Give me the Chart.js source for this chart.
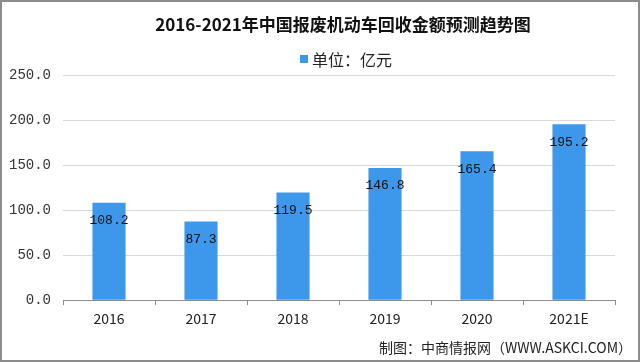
<!DOCTYPE html>
<html>
<head>
<meta charset="utf-8">
<script src="https://cdn.jsdelivr.net/npm/chart.js@4"></script>
<style>
  html, body { margin: 0; padding: 0; background: #fff; }
  #wrap { width: 640px; height: 362px; position: relative; }
</style>
</head>
<body>
<div id="wrap"><canvas id="chart" width="640" height="362"></canvas></div>
<script>
// 数据
const years = ['2016', '2017', '2018', '2019', '2020', '2021E'];
const amounts = [108.2, 87.3, 119.5, 146.8, 165.4, 195.2];
const yTicks = [0, 50, 100, 150, 200, 250];

const titleText = '2016-2021年中国报废机动车回收金额预测趋势图';
const legendText = '单位：亿元';
const sourceText = '制图：中商情报网（WWW.ASKCI.COM）';

const barColor = '#3d97ea';
const monoFont = "'Liberation Mono', 'DejaVu Sans Mono', monospace";
const cjkFont = "'Noto Sans CJK SC', 'Noto Sans', sans-serif";

// 标题、图例、来源、柱子数值和外框
const decorPlugin = {
    id: 'decor',
    afterDatasetsDraw(chart) {
        const ctx = chart.ctx;
        const meta = chart.getDatasetMeta(0);
        ctx.save();
        ctx.font = '13px ' + monoFont;
        ctx.fillStyle = '#111';
        ctx.textAlign = 'center';
        ctx.textBaseline = 'middle';
        meta.data.forEach((bar, i) => {
            ctx.fillText(amounts[i].toFixed(1), bar.x, bar.y + 18);
        });
        ctx.restore();
    },
    afterDraw(chart) {
        const ctx = chart.ctx;
        ctx.save();
        ctx.textBaseline = 'middle';

        // 标题
        ctx.font = 'bold 17px ' + cjkFont;
        ctx.fillStyle = '#111';
        ctx.textAlign = 'center';
        ctx.fillText(titleText, 343, 25);

        // 图例
        ctx.fillStyle = barColor;
        ctx.fillRect(300, 55, 8, 8);
        ctx.font = '16px ' + cjkFont;
        ctx.fillStyle = '#222';
        ctx.textAlign = 'left';
        ctx.fillText(legendText, 312, 60);

        // 来源
        ctx.font = '14px ' + cjkFont;
        ctx.textAlign = 'right';
        ctx.fillText(sourceText, 632, 348);

        // 外框
        ctx.strokeStyle = '#8c8c8c';
        ctx.lineWidth = 2;
        ctx.strokeRect(1, 1, chart.width - 2, chart.height - 2);
        ctx.restore();
    }
};

const ctx = document.getElementById('chart').getContext('2d');
new Chart(ctx, {
    type: 'bar',
    data: {
        labels: years,
        datasets: [{
            label: legendText,
            data: amounts,
            backgroundColor: barColor,
            categoryPercentage: 1,
            barPercentage: 0.36
        }]
    },
    options: {
        responsive: false,
        animation: false,
        layout: { padding: { left: 0, right: 25, top: 75, bottom: 30 } },
        plugins: {
            title: { display: false },
            legend: { display: false },
            tooltip: { enabled: false }
        },
        scales: {
            x: {
                grid: {
                    display: true,
                    offset: true,
                    drawOnChartArea: false,
                    drawTicks: true,
                    tickLength: 5,
                    color: '#8c8c8c'
                },
                border: { display: true, color: '#8c8c8c', width: 1 },
                ticks: {
                    color: '#222',
                    font: { family: cjkFont, size: 14 },
                    padding: 5
                }
            },
            y: {
                min: 0,
                max: 250,
                afterBuildTicks(scale) {
                    scale.ticks = yTicks.map(v => ({ value: v }));
                },
                afterFit(scale) {
                    scale.width = 63;
                },
                grid: { color: '#d9d9d9', drawTicks: false },
                border: { display: false },
                ticks: {
                    color: '#333',
                    font: { family: monoFont, size: 14 },
                    padding: 12,
                    callback: v => Number(v).toFixed(1)
                }
            }
        }
    },
    plugins: [decorPlugin]
});
</script>
</body>
</html>
